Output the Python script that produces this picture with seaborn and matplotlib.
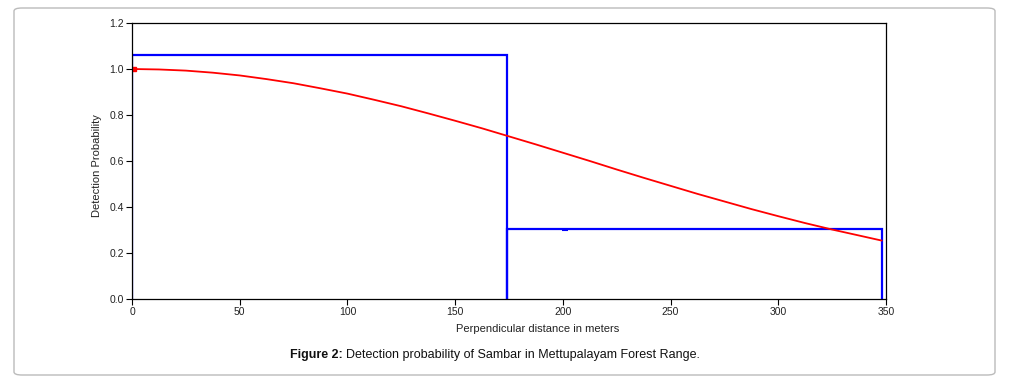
import matplotlib
matplotlib.use('Agg')
import matplotlib.pyplot as plt
from matplotlib.patches import FancyBboxPatch
import numpy as np
import pandas as pd
import seaborn as sns

# histogram of perpendicular distances (scaled), two bins
bin_left = [0, 174]
bin_width = [174, 174]
bin_height = [1.06, 0.305]

# fitted detection function
dist = [0, 12.5, 25, 37.5, 50, 62.5, 75, 87.5, 100, 112.5, 125, 137.5, 150, 162.5, 175,
        187.5, 200, 212.5, 225, 237.5, 250, 262.5, 275, 287.5, 300, 312.5, 325, 337.5, 348]
prob = [1.000, 0.998, 0.993, 0.984, 0.972, 0.956, 0.938, 0.916, 0.893, 0.866, 0.838, 0.807, 0.775, 0.742, 0.707,
        0.672, 0.636, 0.600, 0.563, 0.527, 0.492, 0.457, 0.424, 0.391, 0.360, 0.330, 0.302, 0.276, 0.254]

sns.set_style("white")
plt.rcParams['font.family'] = ['Liberation Sans', 'DejaVu Sans']

fig = plt.figure(figsize=(10.09, 3.82), dpi=100)
ax = fig.add_axes([132/1009, 1-299/382, (886-132)/1009, (299-23)/382])

# push the bottom edge of the bars below the axis so only the outline shows
pad = 0.02
ax.bar(bin_left, [h + pad for h in bin_height], bottom=-pad, width=bin_width, align='edge', fill=False,
       edgecolor='#0000ff', linewidth=1.6, zorder=2)
curve = pd.DataFrame({'dist': dist, 'prob': prob})
sns.lineplot(data=curve, x='dist', y='prob', ax=ax, color='#ff0000', linewidth=1.3, zorder=3)
ax.plot([201], [0.298], marker='_', color='#0000ff', markersize=5, mew=1.5)
ax.plot([1], [1.0], marker='s', color='#ff0000', markersize=2.5)

ax.set_xlim(0, 350)
ax.set_ylim(0, 1.2)
ax.set_xticks(np.arange(0, 351, 50))
ax.set_yticks(np.arange(0, 1.21, 0.2))
ax.set_yticklabels([f'{v:.1f}' for v in np.arange(0, 1.21, 0.2)])
ax.tick_params(axis='both', direction='out', length=4, width=0.8, labelsize=7.5,
               colors='black', labelcolor='#222222', bottom=True, left=True, pad=2)
for s in ax.spines.values():
    s.set_color('black')
    s.set_linewidth(0.9)
    s.set_zorder(5)
ax.set_xlabel('')
ax.set_ylabel('')

fig.text(538/1009, 1-329/382, 'Perpendicular distance in meters', ha='center', va='center',
         fontsize=8, color='#222222')
fig.text(97/1009, 1-166/382, 'Detection Probability', ha='center', va='center',
         rotation=90, fontsize=8, color='#222222')
fig.text(343/1009, 1-355/382, 'Figure 2:', ha='right', va='center', fontsize=9,
         fontweight='bold', color='#111111')
fig.text(346/1009, 1-355/382, 'Detection probability of Sambar in Mettupalayam Forest Range.',
         ha='left', va='center', fontsize=9, color='#111111')

border = FancyBboxPatch((14/1009, 1-375/382), (995-14)/1009, (375-8)/382,
                        boxstyle='round,pad=0,rounding_size=0.008', transform=fig.transFigure,
                        facecolor='none', edgecolor='#bbbbbb', linewidth=1.0)
fig.patches.append(border)

fig.savefig('out.png', dpi=100)
